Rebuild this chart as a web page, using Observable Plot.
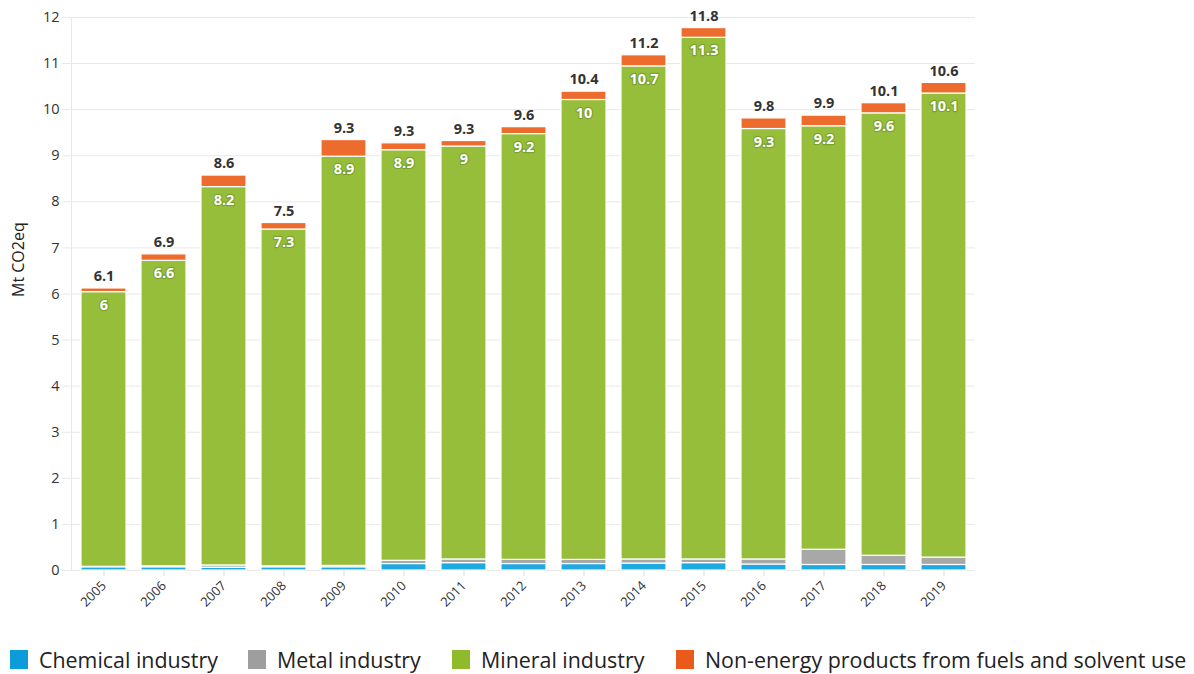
<!DOCTYPE html>
<html>
<head>
<meta charset="utf-8">
<script src="https://cdn.jsdelivr.net/npm/d3@7"></script>
<script src="https://cdn.jsdelivr.net/npm/@observablehq/plot@0.6"></script>
<style>
  body { margin: 0; background: #fff; }
  #wrap { position: relative; width: 1194px; height: 674px; font-family: "Open Sans", sans-serif; }
  .leg { position: absolute; top: 647px; height: 24px; display: flex; align-items: center; font-size: 21.4px; color: #222; white-space: nowrap; }
  .sw { display: inline-block; width: 18px; height: 19px; margin-right: 11px; }
</style>
</head>
<body>
<div id="wrap"></div>
<script>
const years = [2005, 2006, 2007, 2008, 2009, 2010, 2011, 2012, 2013, 2014, 2015, 2016, 2017, 2018, 2019];
const seriesNames = ["Chemical industry", "Metal industry", "Mineral industry", "Non-energy products from fuels and solvent use"];
const chemical  = [0.07, 0.07, 0.06, 0.07, 0.07, 0.14, 0.16, 0.14, 0.14, 0.15, 0.16, 0.13, 0.12, 0.12, 0.12];
const metal     = [0.01, 0.02, 0.05, 0.02, 0.03, 0.07, 0.08, 0.09, 0.09, 0.09, 0.08, 0.11, 0.33, 0.20, 0.16];
const mineral   = [5.96, 6.63, 8.21, 7.31, 8.88, 8.91, 8.96, 9.24, 9.98, 10.70, 11.32, 9.34, 9.19, 9.60, 10.07];
const nonEnergy = [0.08, 0.14, 0.25, 0.14, 0.36, 0.15, 0.12, 0.15, 0.18, 0.24, 0.21, 0.23, 0.23, 0.22, 0.23];
const barColors = ["#1fa8e1", "#a8a8a8", "#97be3b", "#ec6b2d"];
const legendColors = ["#0c9cda", "#9e9e9e", "#8fba2b", "#ea5a1b"];
const yTicks = [0, 1, 2, 3, 4, 5, 6, 7, 8, 9, 10, 11, 12];

const seriesValues = [chemical, metal, mineral, nonEnergy];
const long = [];
seriesNames.forEach((s, si) => years.forEach((yr, i) => long.push({year: yr, series: s, value: seriesValues[si][i]})));
const totals = years.map((yr, i) => ({year: yr, total: chemical[i] + metal[i] + mineral[i] + nonEnergy[i]}));
const minLabels = years.map((yr, i) => ({year: yr, top: chemical[i] + metal[i] + mineral[i], value: mineral[i]}));
const fmt = d3.format(".1~f");

const chart = Plot.plot({
  width: 1194,
  height: 625,
  marginLeft: 71,
  marginRight: 219,
  marginTop: 17,
  marginBottom: 55,
  style: {fontFamily: "'Open Sans', sans-serif", background: "white"},
  x: {type: "band", domain: years, paddingInner: 0.25, paddingOuter: 0.125},
  y: {domain: [0, 12]},
  color: {domain: seriesNames, range: barColors},
  marks: [
    Plot.gridY(yTicks, {stroke: "#e8e8e8", strokeOpacity: 1}),
    Plot.frame({anchor: "left", stroke: "#e8e8e8"}),
    Plot.axisY(yTicks, {tickSize: 9, tickPadding: 3, stroke: "#e8e8e8", fill: "#333", fontSize: 14.5, label: null, tickFormat: d => d}),
    Plot.axisX({tickRotate: -45, tickSize: 6, tickPadding: 7, stroke: "#dcdcdc", fill: "#333", fontSize: 13, label: null, tickFormat: d => String(d)}),
    Plot.barY(long, {x: "year", y: "value", fill: "series", stroke: "white", strokeWidth: 1.2}),
    Plot.text(totals, {x: "year", y: "total", text: d => fmt(d.total), dy: -12, fontSize: 14.5, fontWeight: "bold", fill: "#333"}),
    Plot.text(minLabels, {x: "year", y: "top", text: d => fmt(d.value), dy: 13, fontSize: 14.5, fontWeight: "bold", fill: "white", stroke: "#5f7f18", strokeOpacity: 0.45, strokeWidth: 2.5}),
    Plot.text(["Mt CO2eq"], {frameAnchor: "left", dx: -53, dy: 3, rotate: -90, fontSize: 16, fill: "#222"})
  ]
});

const wrap = document.getElementById("wrap");
wrap.appendChild(chart);
const lefts = [10, 248, 452, 676];
seriesNames.forEach((s, i) => {
  const d = document.createElement("div");
  d.className = "leg";
  d.style.left = lefts[i] + "px";
  const sw = document.createElement("span");
  sw.className = "sw";
  sw.style.background = legendColors[i];
  d.appendChild(sw);
  d.appendChild(document.createTextNode(s));
  wrap.appendChild(d);
});
</script>
</body>
</html>
